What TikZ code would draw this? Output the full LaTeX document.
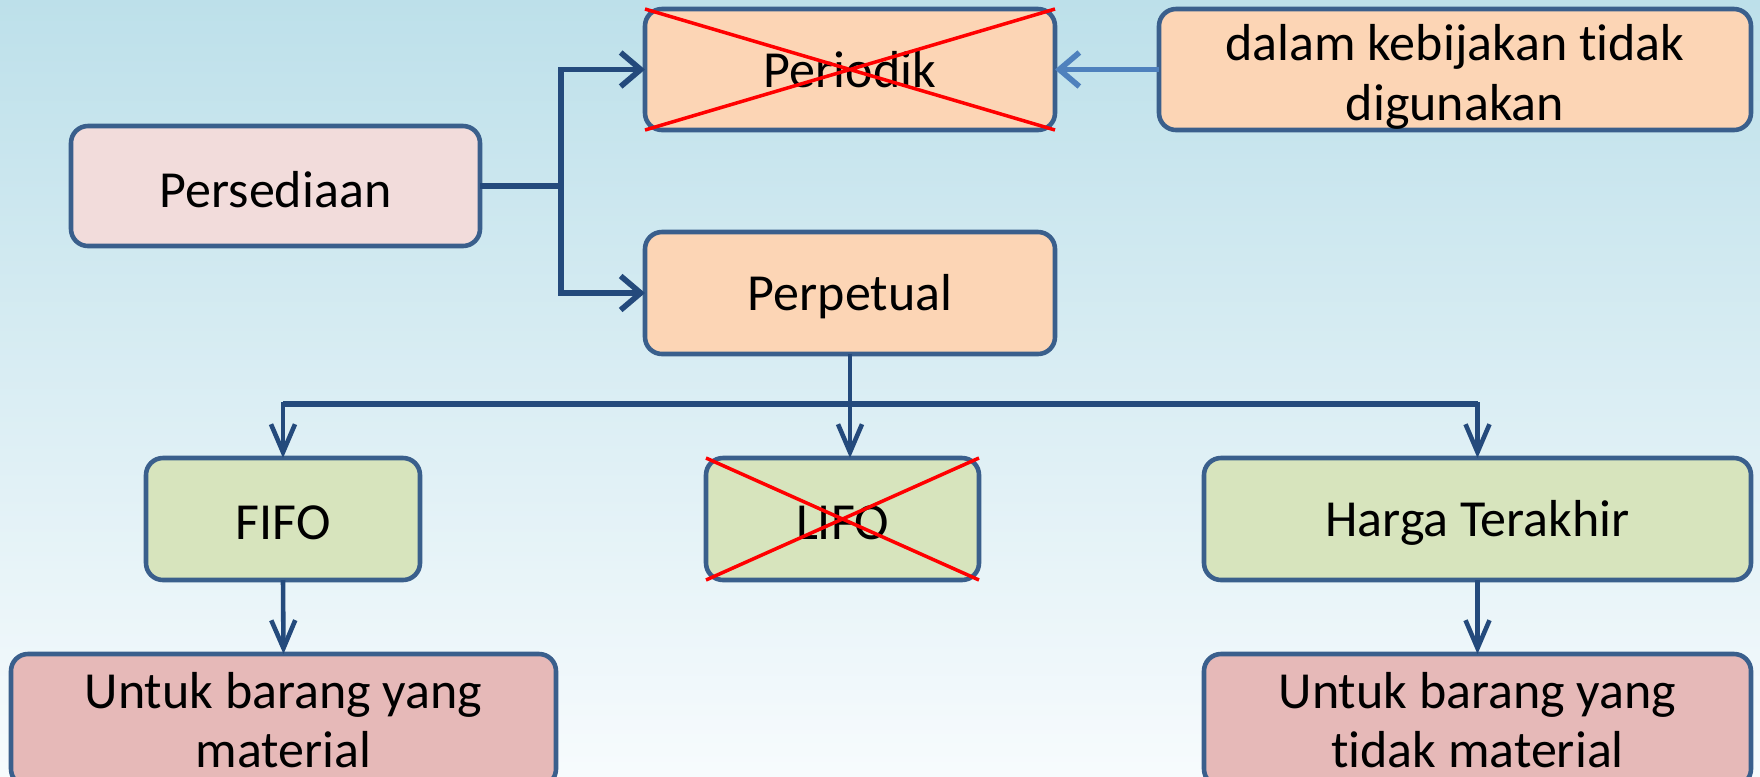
\documentclass[tikz,border=0pt]{standalone}
\usepackage{fontspec}
\setmainfont[Ligatures=NoCommon,RawFeature={-calt;-liga;-clig}]{Carlito}
\usetikzlibrary{arrows.meta}

\definecolor{bgtop}{HTML}{BDE0EA}
\definecolor{bgbot}{HTML}{F7FBFD}
\definecolor{boxline}{HTML}{3A5F8C}
\definecolor{arrdark}{HTML}{244A7C}
\definecolor{arrlight}{HTML}{4F81BD}
\definecolor{pinkfill}{HTML}{F2DCDB}
\definecolor{peachfill}{HTML}{FCD5B5}
\definecolor{greenfill}{HTML}{D7E4BD}
\definecolor{rosefill}{HTML}{E6B9B8}

\newcommand{\lowtext}[2]{\raisebox{-#1}[\height][\depth]{#2}}

\tikzset{
	box/.style={draw=boxline, line width=1.3pt, rounded corners=0.17cm, outer sep=0pt,
		inner sep=2pt, align=center, font=\fontsize{14.8}{17}\selectfont},
	toparr/.style={draw=arrdark, line width=1.6pt, -{Straight Barb[length=2mm,width=3.4mm]}},
	lightarr/.style={draw=arrlight, line width=1.6pt, -{Straight Barb[length=2mm,width=3.4mm]}},
	lowarr/.style={draw=arrdark, line width=1.3pt, -{Straight Barb[length=2.8mm,width=2.4mm]}},
	crossout/.style={draw=red, line width=1pt}
}

\begin{document}
\begin{tikzpicture}

	\clip (0,0) rectangle (17.6,-7.76);
	\shade[top color=bgtop, bottom color=bgbot] (0,0) rectangle (17.6,-7.76);

	\node[box, fill=pinkfill, minimum width=4.09cm, minimum height=1.2cm] (pers) at (2.755,-1.86) {\lowtext{1pt}{Persediaan}};
	\node[box, fill=peachfill, minimum width=4.1cm, minimum height=1.21cm] (periodik) at (8.5,-0.695) {Periodik};
	\node[box, fill=peachfill, minimum width=5.92cm, minimum height=1.21cm] (dalam) at (14.55,-0.695) {\lowtext{2pt}{dalam kebijakan tidak}\\\lowtext{2pt}{digunakan}};
	\node[box, fill=peachfill, minimum width=4.1cm, minimum height=1.22cm] (perpetual) at (8.5,-2.93) {\lowtext{1pt}{Perpetual}};
	\node[box, fill=greenfill, minimum width=2.74cm, minimum height=1.22cm] (fifo) at (2.83,-5.19) {\lowtext{1pt}{FIFO}};
	\node[box, fill=greenfill, minimum width=2.73cm, minimum height=1.22cm] (lifo) at (8.425,-5.19) {\lowtext{1pt}{LIFO}};
	\node[box, fill=greenfill, minimum width=5.47cm, minimum height=1.22cm] (harga) at (14.775,-5.19) {\lowtext{1pt}{Harga Terakhir}};
	\node[box, fill=rosefill, minimum width=5.45cm, minimum height=1.32cm] (untuka) at (2.835,-7.2) {Untuk barang yang\\material};
	\node[box, fill=rosefill, minimum width=5.47cm, minimum height=1.32cm] (untukb) at (14.775,-7.2) {Untuk barang yang\\tidak material};

	\coordinate (split) at (5.61,-1.86);
	\draw[toparr] (pers.east) -- (split) |- (periodik.west);
	\draw[toparr] (split) |- (perpetual.west);
	\draw[lightarr] (dalam.west) -- (periodik.east);

	\coordinate (bar) at (8.5,-4.04);
	\draw[draw=arrdark, line width=1.3pt] (perpetual.south) -- (bar);
	\draw[draw=arrdark, line width=1.8pt] (fifo.north |- bar) -- (harga.north |- bar);
	\draw[lowarr] (bar) -| (fifo.north);
	\draw[lowarr] (bar) -- (bar |- lifo.north);
	\draw[lowarr] (bar) -| (harga.north);
	\draw[lowarr] (fifo.south) -- (untuka.north);
	\draw[lowarr] (harga.south) -- (untukb.north);

	\draw[crossout] (periodik.north west) -- (periodik.south east)
		(periodik.south west) -- (periodik.north east);
	\draw[crossout] (lifo.north west) -- (lifo.south east)
		(lifo.south west) -- (lifo.north east);

\end{tikzpicture}
\end{document}
